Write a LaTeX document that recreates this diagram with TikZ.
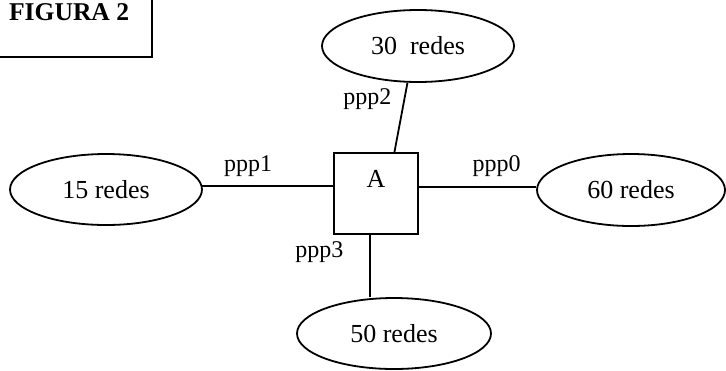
\documentclass[tikz,border=0pt]{standalone}
\usepackage{fontspec}
\setmainfont{Liberation Serif}
\usetikzlibrary{positioning,shapes.geometric,calc}
\tikzset{
  net/.style={ellipse, draw, line width=0.9pt, inner sep=0pt, minimum width=96pt, minimum height=36pt, font=\fontsize{13}{15}\selectfont},
  router/.style={draw, line width=0.9pt, inner sep=0pt, minimum width=42pt, minimum height=40.5pt, font=\fontsize{13}{15}\selectfont, text height=8.6pt, text depth=14.5pt},
  fig/.style={draw, line width=0.9pt, minimum width=83pt, minimum height=45pt, font=\bfseries\fontsize{12.8}{14}\selectfont},
  lk/.style={line width=0.9pt},
  lbl/.style={font=\fontsize{12}{14}\selectfont, inner sep=0pt},
}

\begin{document}
\begin{tikzpicture}[x=0.5pt, y=-0.5pt]
\useasboundingbox (0,0) rectangle (726,370);
\clip (0,0) rectangle (726,370);
\node[fig, anchor=south east] (fig) at (153,58) {FIGURA 2};
\node[router] (A) at (376,193.5) {A};
\node[net] (e30) at (418,46) {30~~redes};
\node[net, minimum height=35.5pt] (e15) at (106,189.5) {15 redes};
\node[net, minimum width=94pt] (e60) at (631,190) {60 redes};
\node[net, minimum width=97pt, minimum height=35.5pt] (e50) at (394,333.5) {50 redes};
\draw[lk] (e15.2) -- node[lbl, above=4.5pt, pos=0.35] {ppp1} (e15.2 -| A.west);
\draw[lk] (e60.178 -| A.east) -- node[lbl, above=4.5pt, pos=0.66] {ppp0} (e60.178);
\draw[lk] (e30.254) -- node[lbl, left=6pt, pos=0.24] {ppp2} (A.66);
\draw[lk] (A.262) -- node[lbl, left=13pt, pos=0.28] {ppp3} (A.262 |- e50.north);
\end{tikzpicture}
\end{document}
